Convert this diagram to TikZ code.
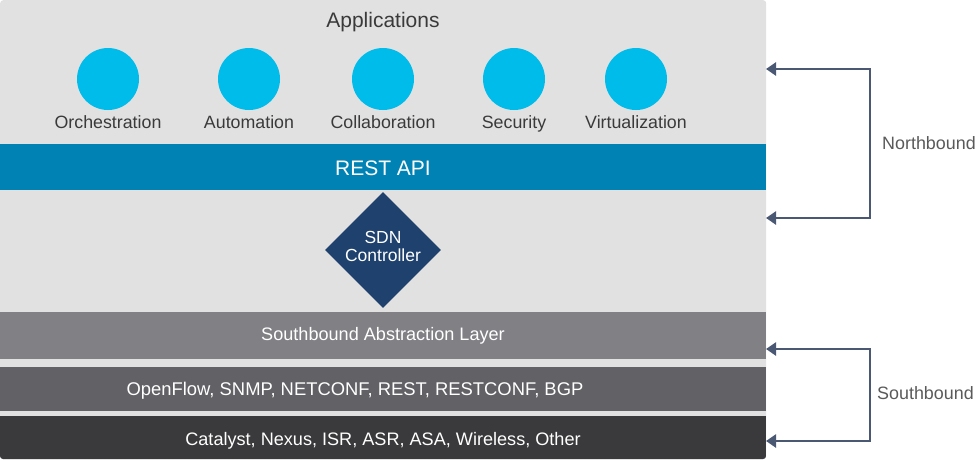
\documentclass[tikz,border=0pt]{standalone}
\usepackage{fontspec}
\setmainfont{Liberation Sans}
\usetikzlibrary{shapes.geometric,arrows.meta}
\definecolor{panelbg}{HTML}{E1E1E1}
\definecolor{restbar}{HTML}{0083B4}
\definecolor{appcirc}{HTML}{00BCEB}
\definecolor{sdnblue}{HTML}{1E416E}
\definecolor{barone}{HTML}{808085}
\definecolor{bartwo}{HTML}{616166}
\definecolor{barthree}{HTML}{3A3A3C}
\definecolor{arrcol}{HTML}{4A5873}
\definecolor{txtdark}{HTML}{3A3A3A}
\definecolor{txtside}{HTML}{5A5A5A}
\tikzset{
  lbl/.style={font=\fontsize{17.8}{18}\selectfont, text=txtdark, inner sep=0pt, anchor=base},
  appdot/.style={circle, fill=appcirc, minimum size=62pt, inner sep=0pt},
  layerbar/.style={rectangle, minimum width=766pt, anchor=north west, inner sep=0pt},
  bartxt/.style={text=white, font=\fontsize{18.1}{19}\selectfont, inner sep=0pt, anchor=base},
  bracket/.style={draw=arrcol, line width=2.8pt, {Triangle[length=10pt,width=13pt]}-{Triangle[length=10pt,width=13pt]}},
  sidelbl/.style={font=\fontsize{17.9}{18}\selectfont, text=txtside, inner sep=0pt, anchor=base west}
}
\begin{document}
\begin{tikzpicture}[x=1pt,y=-1pt]
\useasboundingbox (0,0) rectangle (976,459);
\node[rectangle, rounded corners=3pt, fill=panelbg, minimum width=766pt, minimum height=459pt, anchor=north west, inner sep=0pt] (panel) at (0,0) {};
\begin{scope}
\clip[rounded corners=3pt] (0,0) rectangle (766,459);
\node[layerbar, fill=restbar, minimum height=46pt] (rest) at (0,144) {};
\node[layerbar, fill=barone, minimum height=47pt] (sal) at (0,312) {};
\node[layerbar, fill=bartwo, minimum height=44pt] (proto) at (0,367) {};
\node[layerbar, fill=barthree, minimum height=46pt] (devs) at (0,416) {};
\end{scope}
\node[bartxt, font=\fontsize{21}{22}\selectfont] (resttxt) at (383,175) {REST API};
\node[bartxt] (saltxt) at (383,340) {Southbound Abstraction Layer};
\node[bartxt, font=\fontsize{18.4}{19}\selectfont] (prototxt) at (355,395) {OpenFlow, SNMP, NETCONF, REST, RESTCONF, BGP};
\node[bartxt] (devstxt) at (383,445) {Catalyst, Nexus, ISR, ASR, ASA, Wireless, Other};
\node[lbl, font=\fontsize{21}{22}\selectfont] (apps) at (383,27) {Applications};
\node[appdot] (c1) at (108,79) {};
\node[appdot] (c2) at (249,79) {};
\node[appdot] (c3) at (383,79) {};
\node[appdot] (c4) at (514,79) {};
\node[appdot] (c5) at (636,79) {};
\node[lbl] (l1) at (108,128.7) {Orchestration};
\node[lbl] (l2) at (249,128.7) {Automation};
\node[lbl] (l3) at (383,128.7) {Collaboration};
\node[lbl] (l4) at (514,128.7) {Security};
\node[lbl] (l5) at (636,128.7) {Virtualization};
\node[diamond, fill=sdnblue, minimum width=116pt, minimum height=116pt, inner sep=0pt] (sdn) at (383,250) {};
\node[bartxt, font=\fontsize{17.5}{17.5}\selectfont] (sdntxt) at (383,243.5) {SDN};
\node[bartxt, font=\fontsize{17.5}{17.5}\selectfont] (ctrltxt) at (383,261.7) {Controller};
\coordinate (ntop) at (766,69);
\coordinate (nbot) at (766,218);
\coordinate (stop) at (766,349);
\coordinate (sbot) at (766,441);
\draw[bracket] (ntop) -- (870,69) -- (870,218) -- (nbot);
\draw[bracket] (stop) -- (870,349) -- (870,441) -- (sbot);
\node[sidelbl] (north) at (882,149) {Northbound};
\node[sidelbl] (south) at (877,399) {Southbound};
\end{tikzpicture}
\end{document}
